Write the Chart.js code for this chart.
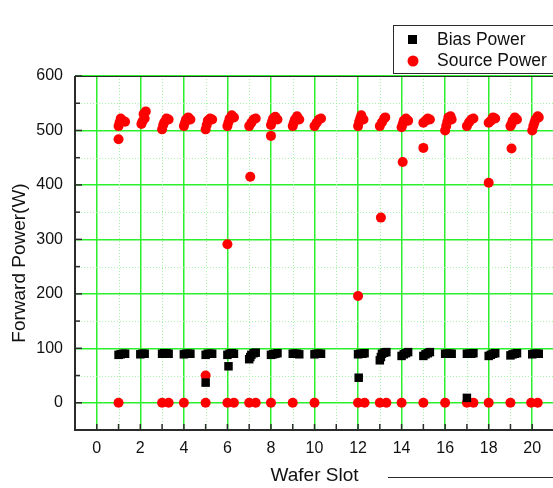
<!DOCTYPE html>
<html>
<head>
<meta charset="utf-8">
<script src="https://cdn.jsdelivr.net/npm/chart.js@4.4.1/dist/chart.umd.min.js"></script>
<style>
  html, body { margin: 0; padding: 0; overflow: hidden; background: #fff; }
  #wrap { width: 560px; height: 488px; }
</style>
</head>
<body>
<div id="wrap"><canvas id="c" width="560" height="488"></canvas></div>
<script>
// Bias power readings per wafer slot (x = slot position, y = forward power in W)
const biasX = [
  1.0, 1.1, 1.2, 1.3,
  2.0, 2.1, 2.2,
  3.0, 3.1, 3.2, 3.3,
  4.0, 4.1, 4.2, 4.3,
  5.0, 5.1, 5.2, 5.3, 5.0,
  6.0, 6.1, 6.2, 6.3, 6.05,
  7.0, 7.05, 7.1, 7.2, 7.3,
  8.0, 8.1, 8.2, 8.3,
  9.0, 9.1, 9.2, 9.3,
  10.0, 10.1, 10.2, 10.3,
  12.0, 12.1, 12.2, 12.3, 12.03,
  13.0, 13.05, 13.1, 13.2, 13.3,
  14.0, 14.1, 14.2, 14.3,
  15.0, 15.1, 15.2, 15.3,
  16.0, 16.1, 16.2, 16.3,
  17.0, 17.1, 17.2, 17.3, 17.0,
  18.0, 18.1, 18.2, 18.3,
  19.0, 19.1, 19.2, 19.3,
  20.0, 20.1, 20.2, 20.3
];
const biasY = [
  88, 89, 90, 90,
  89, 90, 90,
  90, 91, 91, 90,
  89, 90, 90, 90,
  88, 90, 90, 90, 37,
  88, 90, 91, 90, 67,
  80, 84, 88, 91, 92,
  88, 89, 90, 91,
  90, 90, 90, 89,
  89, 90, 90, 90,
  89, 90, 90, 91, 46,
  78, 84, 90, 92, 93,
  86, 89, 91, 93,
  86, 89, 91, 93,
  90, 90, 90, 90,
  90, 90, 90, 91, 9,
  86, 88, 90, 91,
  87, 89, 90, 91,
  89, 90, 90, 90
];

// Source power readings per wafer slot
const sourceX = [
  1.0, 1.0, 1.05, 1.1, 1.2, 1.3, 1.0,
  2.05, 2.1, 2.15, 2.2, 2.25,
  3.0, 3.05, 3.1, 3.2, 3.3, 3.0, 3.3,
  4.0, 4.05, 4.1, 4.2, 4.3, 4.0,
  5.0, 5.05, 5.1, 5.2, 5.3, 5.0, 5.0,
  6.0, 6.05, 6.1, 6.2, 6.3, 6.0, 6.0, 6.3,
  7.0, 7.1, 7.2, 7.3, 7.05, 7.0, 7.3,
  8.0, 8.05, 8.1, 8.2, 8.3, 8.0, 8.0,
  9.0, 9.05, 9.1, 9.2, 9.3, 9.0,
  10.0, 10.1, 10.2, 10.3, 10.0,
  12.0, 12.05, 12.1, 12.15, 12.25, 12.0, 12.0, 12.3,
  13.0, 13.1, 13.2, 13.25, 13.05, 13.0, 13.3,
  14.0, 14.05, 14.1, 14.2, 14.3, 14.05, 14.0,
  15.0, 15.1, 15.2, 15.3, 15.0, 15.0,
  16.0, 16.05, 16.1, 16.15, 16.25, 16.3, 16.0,
  17.0, 17.1, 17.2, 17.3, 17.0, 17.3,
  18.0, 18.1, 18.2, 18.3, 18.0, 18.0,
  19.0, 19.05, 19.1, 19.2, 19.3, 19.05, 19.0,
  20.0, 20.05, 20.1, 20.15, 20.25, 20.3, 19.95, 20.25
];
const sourceY = [
  484, 508, 515, 522, 518, 516, 0,
  512, 517, 530, 522, 535,
  502, 510, 515, 522, 520, 0, 0,
  508, 514, 520, 524, 520, 0,
  502, 510, 518, 522, 520, 50, 0,
  508, 515, 522, 528, 524, 291, 0, 0,
  508, 514, 520, 522, 415, 0, 0,
  510, 516, 522, 525, 520, 490, 0,
  508, 514, 520, 526, 520, 0,
  508, 514, 520, 522, 0,
  508, 516, 522, 528, 520, 196, 0, 0,
  508, 515, 522, 524, 340, 0, 0,
  506, 512, 518, 522, 518, 442, 0,
  514, 518, 522, 520, 468, 0,
  500, 508, 516, 524, 526, 520, 0,
  508, 515, 520, 522, 0, 0,
  514, 518, 524, 522, 404, 0,
  508, 512, 518, 524, 520, 467, 0,
  500, 508, 514, 520, 526, 524, 0, 0
];

// Axis ticks
const xTicks = [0, 2, 4, 6, 8, 10, 12, 14, 16, 18, 20];
const xTickLabels = ['0', '2', '4', '6', '8', '10', '12', '14', '16', '18', '20'];
const xMinor = [1, 3, 5, 7, 9, 11, 13, 15, 17, 19];
const yTicks = [0, 100, 200, 300, 400, 500, 600];
const yTickLabels = ['0', '100', '200', '300', '400', '500', '600'];
const yMinor = [50, 150, 250, 350, 450, 550];

const FONT = "'Liberation Sans', Arial, sans-serif";
const GRID_MAJOR = '#2bf02b';
const GRID_MINOR = '#a6f5a6';
const AXIS = '#2b2b2b';

function toPoints(xs, ys) {
  return xs.map((x, i) => ({ x: x, y: ys[i] }));
}

// Minor dotted grid, axis frame, inward ticks, titles and legend box
const frame = {
  id: 'frame',
  beforeDatasetsDraw(chart) {
    const { ctx, chartArea: a, scales: { x, y } } = chart;
    ctx.save();
    ctx.strokeStyle = GRID_MINOR;
    ctx.lineWidth = 1;
    ctx.setLineDash([1, 2]);
    xMinor.forEach(v => {
      const px = Math.round(x.getPixelForValue(v)) + 0.5;
      ctx.beginPath(); ctx.moveTo(px, a.top); ctx.lineTo(px, a.bottom); ctx.stroke();
    });
    yMinor.forEach(v => {
      const py = Math.round(y.getPixelForValue(v)) + 0.5;
      ctx.beginPath(); ctx.moveTo(a.left, py); ctx.lineTo(a.right, py); ctx.stroke();
    });
    ctx.restore();
  },
  afterDraw(chart) {
    const { ctx, chartArea: a, scales: { x, y } } = chart;
    const ds = chart.data.datasets;
    ctx.save();
    // frame lines
    ctx.strokeStyle = AXIS;
    ctx.lineWidth = 2;
    ctx.beginPath();
    ctx.moveTo(a.left, a.top); ctx.lineTo(a.left, a.bottom); ctx.lineTo(a.right + 5, a.bottom);
    ctx.stroke();
    ctx.lineWidth = 1;
    ctx.beginPath();
    ctx.moveTo(a.left, a.top + 0.5); ctx.lineTo(a.right + 5, a.top + 0.5);
    ctx.stroke();
    // inward ticks
    ctx.lineWidth = 1.5;
    yTicks.concat(yMinor).forEach(v => {
      const py = y.getPixelForValue(v);
      const len = yTicks.includes(v) ? 7 : 5;
      ctx.beginPath(); ctx.moveTo(a.left, py); ctx.lineTo(a.left + len, py); ctx.stroke();
    });
    xTicks.concat(xMinor).forEach(v => {
      const px = x.getPixelForValue(v);
      ctx.beginPath(); ctx.moveTo(px, a.bottom); ctx.lineTo(px, a.bottom - 6); ctx.stroke();
    });
    // axis titles
    ctx.fillStyle = '#111';
    ctx.font = '19px ' + FONT;
    ctx.textAlign = 'center';
    ctx.textBaseline = 'middle';
    ctx.fillText('Wafer Slot', (a.left + a.right) / 2, 476);
    ctx.save();
    ctx.translate(20, 263);
    ctx.rotate(-Math.PI / 2);
    ctx.fillText('Forward Power(W)', 0, 0);
    ctx.restore();
    // legend
    ctx.strokeStyle = AXIS;
    ctx.lineWidth = 1;
    ctx.strokeRect(393.5, 25.5, 180, 48);
    ctx.fillStyle = ds[0].backgroundColor;
    ctx.fillRect(408, 35, 9, 9);
    ctx.fillStyle = ds[1].backgroundColor;
    ctx.beginPath(); ctx.arc(413, 61, 5.5, 0, Math.PI * 2); ctx.fill();
    ctx.fillStyle = '#111';
    ctx.font = '17.5px ' + FONT;
    ctx.textAlign = 'left';
    ctx.fillText(ds[0].label, 437, 40);
    ctx.fillText(ds[1].label, 437, 61);
    // lower box edge
    ctx.beginPath(); ctx.moveTo(388, 477.5); ctx.lineTo(560, 477.5); ctx.stroke();
    ctx.restore();
  }
};

new Chart(document.getElementById('c'), {
  type: 'scatter',
  data: {
    datasets: [
      {
        label: 'Bias Power',
        data: toPoints(biasX, biasY),
        pointStyle: 'rect',
        pointRadius: 6,
        backgroundColor: '#000000',
        borderWidth: 0
      },
      {
        label: 'Source Power',
        data: toPoints(sourceX, sourceY),
        pointStyle: 'circle',
        pointRadius: 5,
        backgroundColor: '#ff0000',
        borderWidth: 0
      }
    ]
  },
  options: {
    responsive: false,
    animation: false,
    devicePixelRatio: 1,
    layout: { padding: { top: 76, right: 2, left: 0, bottom: 0 } },
    plugins: { legend: { display: false }, tooltip: { enabled: false } },
    scales: {
      x: {
        type: 'linear',
        min: -1,
        max: 21,
        afterBuildTicks: s => { s.ticks = xTicks.map(v => ({ value: v })); },
        afterFit: s => { s.height = 58; },
        grid: { color: GRID_MAJOR, lineWidth: 1.5, drawTicks: false },
        border: { display: false },
        ticks: {
          color: '#111',
          padding: 9,
          maxRotation: 0,
          font: { family: FONT, size: 16 },
          callback: (v, i) => xTickLabels[i]
        }
      },
      y: {
        type: 'linear',
        min: -50,
        max: 600,
        afterBuildTicks: s => { s.ticks = yTicks.map(v => ({ value: v })); },
        afterFit: s => { s.width = 75; },
        grid: { color: GRID_MAJOR, lineWidth: 1.5, drawTicks: false },
        border: { display: false },
        ticks: {
          color: '#111',
          padding: 12,
          font: { family: FONT, size: 16 },
          callback: (v, i) => yTickLabels[i]
        }
      }
    }
  },
  plugins: [frame]
});
</script>
</body>
</html>
